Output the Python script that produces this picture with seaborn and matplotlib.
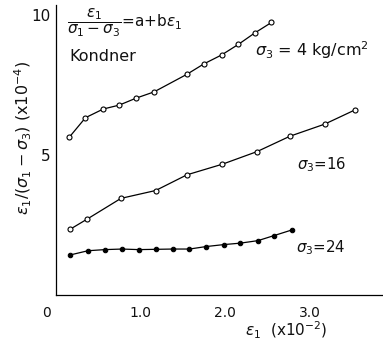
import matplotlib
matplotlib.use("Agg")
import matplotlib.pyplot as plt
import seaborn as sns
import pandas as pd

sns.set_theme(style="white")
plt.rcParams["font.family"] = ["DejaVu Sans"]
plt.rcParams["mathtext.fontset"] = "dejavusans"

# strain eps1 (x10^-2) and eps1/(sigma1-sigma3) (x10^-4) for three confining pressures
eps_s4 = [0.16, 0.35, 0.56, 0.75, 0.95, 1.16, 1.55, 1.75, 1.96, 2.16, 2.35, 2.55]
ratio_s4 = [5.64, 6.33, 6.64, 6.78, 7.03, 7.25, 7.88, 8.25, 8.57, 8.95, 9.35, 9.73]

eps_s16 = [0.17, 0.37, 0.77, 1.18, 1.55, 1.97, 2.38, 2.77, 3.18, 3.54]
ratio_s16 = [2.35, 2.71, 3.45, 3.73, 4.29, 4.67, 5.12, 5.67, 6.10, 6.61]

eps_s24 = [0.17, 0.38, 0.58, 0.78, 0.98, 1.18, 1.38, 1.58, 1.78, 1.99, 2.18, 2.39, 2.58, 2.79]
ratio_s24 = [1.43, 1.58, 1.62, 1.64, 1.62, 1.63, 1.64, 1.64, 1.73, 1.80, 1.85, 1.94, 2.12, 2.32]

x_ticks = [0, 1, 2, 3]
x_tick_labels = ["", "1.0", "2.0", "3.0"]
y_ticks = [5, 10]
y_tick_labels = ["5", "10"]

fig = plt.figure(figsize=(3.83, 3.45), dpi=100)
ax = fig.add_axes([0.146, 0.145, 0.854, 0.841])

open_style = dict(marker="o", markersize=3.6, markerfacecolor="white",
                  markeredgecolor="black", markeredgewidth=0.8)
filled_style = dict(marker="o", markersize=3.2, markerfacecolor="black",
                    markeredgecolor="black", markeredgewidth=0.8)

for xs, ys, mstyle in [(eps_s4, ratio_s4, open_style),
                       (eps_s16, ratio_s16, open_style),
                       (eps_s24, ratio_s24, filled_style)]:
    df = pd.DataFrame({"eps": xs, "ratio": ys})
    sns.lineplot(data=df, x="eps", y="ratio", ax=ax, color="black",
                 linewidth=0.9, sort=False, estimator=None, **mstyle)

ax.set_xlim(0, 3.87)
ax.set_ylim(0, 10.36)
ax.set_xticks(x_ticks)
ax.set_xticklabels(x_tick_labels, fontsize=10, color="#111111")
ax.set_yticks(y_ticks)
ax.set_yticklabels(y_tick_labels, fontsize=11, color="#111111")
ax.tick_params(direction="in", length=3, width=0.8, color="black")
ax.tick_params(axis="x", pad=8)
ax.tick_params(axis="y", pad=4)
for side in ["top", "right"]:
    ax.spines[side].set_visible(False)
for side in ["left", "bottom"]:
    ax.spines[side].set_color("black")
    ax.spines[side].set_linewidth(0.9)
ax.set_xlabel("")
ax.set_ylabel("")

# origin label sits a little left of the corner
ax.text(-0.11, -0.40, "0", fontsize=10, color="#111111", ha="center", va="top",
        clip_on=False)

fig.text(0.062, 0.60, r"$\epsilon_1/(\sigma_1-\sigma_3)$ (x10$^{-4}$)",
         rotation=90, ha="center", va="center", fontsize=11.5, color="#111111")
fig.text(0.747, 0.043, r"$\epsilon_1$  (x10$^{-2}$)",
         ha="center", va="center", fontsize=11, color="#111111")

ax.text(0.13, 9.72, r"$\dfrac{\epsilon_1}{\sigma_1-\sigma_3}$=a+b$\epsilon_1$",
        fontsize=11, ha="left", va="center", color="#111111")
ax.text(0.16, 8.52, "Kondner", fontsize=11.5, ha="left", va="center", color="#111111")
ax.text(2.35, 8.75, r"$\sigma_3$ = 4 kg/cm$^2$", fontsize=11.5, ha="left",
        va="center", color="#111111")
ax.text(2.85, 4.65, r"$\sigma_3$=16", fontsize=10.8, ha="left", va="center",
        color="#111111")
ax.text(2.84, 1.68, r"$\sigma_3$=24", fontsize=10.8, ha="left", va="center",
        color="#111111")

fig.savefig("out.png", dpi=100, facecolor="white")
